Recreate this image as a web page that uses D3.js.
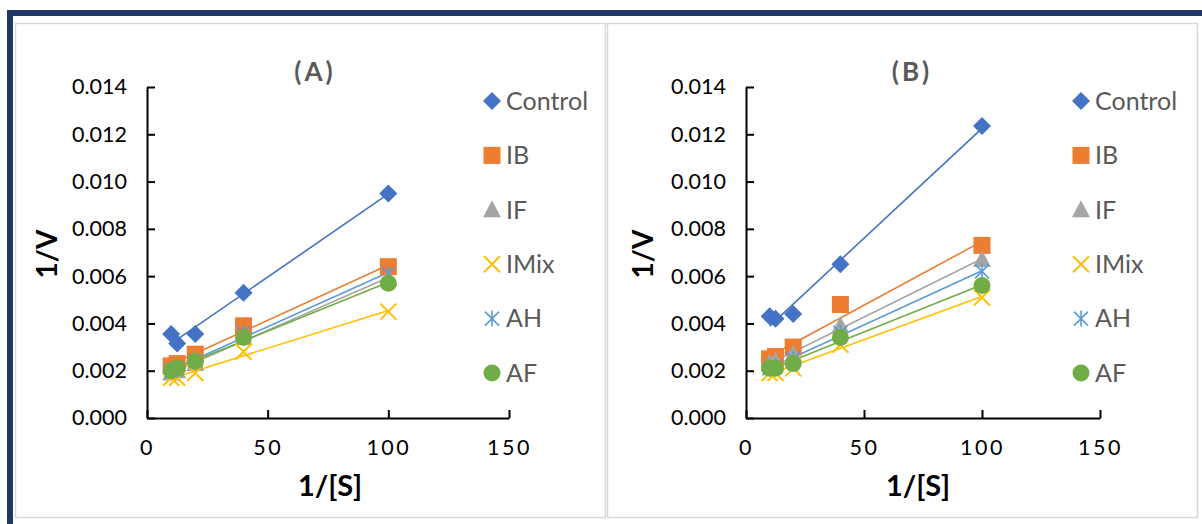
<!DOCTYPE html>
<html><head><meta charset="utf-8">
<script src="https://cdn.jsdelivr.net/npm/d3@7"></script>
<style>body{margin:0;background:#fff}svg{display:block}text{font-family:Lato,"Open Sans",sans-serif}</style>
</head><body><svg id="c" width="1202" height="524"></svg>
<script>
// ---- data ----
const xValues = [10, 12.5, 20, 40, 100];
const seriesNames = ["Control", "IB", "IF", "IMix", "AH", "AF"];
const panelTitles = ["(A)", "(B)"];
const yTickValues = [0, 0.002, 0.004, 0.006, 0.008, 0.010, 0.012, 0.014];
const xTickValues = [0, 50, 100, 150];

const aControl = [0.00355, 0.00315, 0.00355, 0.0053, 0.0095];
const aIB      = [0.0022, 0.0023, 0.0027, 0.0039, 0.0064];
const aIF      = [0.0019, 0.0020, 0.0023, 0.0034, 0.0059];
const aIMix    = [0.0017, 0.0017, 0.0019, 0.0028, 0.0045];
const aAH      = [0.0020, 0.0021, 0.0024, 0.0036, 0.0061];
const aAF      = [0.0020, 0.0021, 0.0024, 0.0034, 0.0057];

const bControl = [0.0043, 0.0042, 0.0044, 0.0065, 0.01235];
const bIB      = [0.0025, 0.0026, 0.0030, 0.0048, 0.0073];
const bIF      = [0.0023, 0.0024, 0.0027, 0.0039, 0.0067];
const bIMix    = [0.0019, 0.0019, 0.0021, 0.0031, 0.0051];
const bAH      = [0.0021, 0.0022, 0.0025, 0.0036, 0.0062];
const bAF      = [0.0021, 0.0021, 0.0023, 0.0034, 0.0056];

// ---- styles ----
const colors = ["#4472C4", "#ED7D31", "#A5A5A5", "#FFC000", "#5B9BD5", "#70AD47"];
const shapes = ["diamond", "square", "triangle", "x", "star", "circle"];

const panels = [
  {title: panelTitles[0], series: [aControl, aIB, aIF, aIMix, aAH, aAF],
   box: [15, 23, 590, 494], x0: 147, x1: 509, legendX: 492, titleX: 315, yTitleX: 47, xTitleX: 330},
  {title: panelTitles[1], series: [bControl, bIB, bIF, bIMix, bAH, bAF],
   box: [607, 23, 590, 494], x0: 746, x1: 1100, legendX: 1081, titleX: 912, yTitleX: 643, xTitleX: 918}
];

const svg = d3.select("#c");
svg.append("rect").attr("width", 1202).attr("height", 524).attr("fill", "#fff");
// navy frame
svg.append("rect").attr("x", 7).attr("y", 10).attr("width", 1195).attr("height", 6).attr("fill", "#1F3864");
svg.append("rect").attr("x", 7).attr("y", 10).attr("width", 6).attr("height", 514).attr("fill", "#1F3864");

function drawMarker(g, shape, color, cx, cy) {
  if (shape === "diamond") {
    const s = 9;
    g.append("path").attr("d", `M${cx},${cy - s}L${cx + s},${cy}L${cx},${cy + s}L${cx - s},${cy}Z`).attr("fill", color);
  } else if (shape === "square") {
    g.append("rect").attr("x", cx - 8.5).attr("y", cy - 8.5).attr("width", 17).attr("height", 17).attr("fill", color);
  } else if (shape === "triangle") {
    g.append("path").attr("d", `M${cx},${cy - 9.5}L${cx + 9},${cy + 7.5}L${cx - 9},${cy + 7.5}Z`).attr("fill", color);
  } else if (shape === "x") {
    const s = 8;
    g.append("path").attr("d", `M${cx - s},${cy - s}L${cx + s},${cy + s}M${cx + s},${cy - s}L${cx - s},${cy + s}`)
      .attr("stroke", color).attr("stroke-width", 2).attr("fill", "none");
  } else if (shape === "star") {
    const s = 7;
    g.append("path").attr("d", `M${cx - s},${cy - s}L${cx + s},${cy + s}M${cx + s},${cy - s}L${cx - s},${cy + s}M${cx},${cy - s - 1}L${cx},${cy + s + 1}`)
      .attr("stroke", color).attr("stroke-width", 1.6).attr("fill", "none");
  } else if (shape === "circle") {
    g.append("circle").attr("cx", cx).attr("cy", cy).attr("r", 8.5).attr("fill", color);
  }
}

function regression(xs, ys) {
  const n = xs.length;
  const mx = d3.mean(xs), my = d3.mean(ys);
  let sxy = 0, sxx = 0;
  for (let i = 0; i < n; i++) { sxy += (xs[i] - mx) * (ys[i] - my); sxx += (xs[i] - mx) ** 2; }
  const m = sxy / sxx;
  return {m, b: my - m * mx};
}

panels.forEach(p => {
  const [bx, by, bw, bh] = p.box;
  svg.append("rect").attr("x", bx + 0.5).attr("y", by + 0.5).attr("width", bw).attr("height", bh)
    .attr("fill", "#fff").attr("stroke", "#D9D9D9").attr("stroke-width", 1.5);

  const x = d3.scaleLinear().domain([0, 150]).range([p.x0, p.x1]);
  const y = d3.scaleLinear().domain([0, 0.014]).range([418, 87]);

  const gy = svg.append("g").attr("transform", `translate(${p.x0},0)`)
    .call(d3.axisLeft(y).tickValues(yTickValues).tickFormat(d3.format(".3f")).tickSizeInner(-8).tickSizeOuter(0).tickPadding(20));
  const gx = svg.append("g").attr("transform", `translate(0,418)`)
    .call(d3.axisBottom(x).tickValues(xTickValues).tickFormat(d3.format("d")).tickSizeInner(-8).tickSizeOuter(0).tickPadding(22));
  [gy, gx].forEach(g => {
    g.select(".domain").attr("stroke", "#000").attr("stroke-width", 2);
    g.selectAll(".tick line").attr("stroke", "#000").attr("stroke-width", 2);
    g.selectAll(".tick text").attr("fill", "#000").attr("font-size", 21.5).attr("font-family", "Lato");
  });
  gx.selectAll(".tick text").attr("letter-spacing", 2.5);

  // trendlines
  p.series.forEach((ys, i) => {
    const r = regression(xValues, ys);
    const xa = d3.min(xValues), xb = d3.max(xValues);
    svg.append("line").attr("x1", x(xa)).attr("y1", y(r.m * xa + r.b))
      .attr("x2", x(xb)).attr("y2", y(r.m * xb + r.b))
      .attr("stroke", colors[i]).attr("stroke-width", 1.6);
  });
  // markers
  p.series.forEach((ys, i) => {
    const g = svg.append("g");
    ys.forEach((v, j) => drawMarker(g, shapes[i], colors[i], x(xValues[j]), y(v)));
  });

  // legend
  seriesNames.forEach((name, i) => {
    const ly = 101 + i * 54.4;
    drawMarker(svg.append("g"), shapes[i], colors[i], p.legendX, ly);
    svg.append("text").attr("x", p.legendX + 14).attr("y", ly).attr("dy", "0.35em")
      .attr("font-size", 25).attr("fill", "#595959").text(name);
  });

  // titles
  svg.append("text").attr("x", p.titleX).attr("y", 72).attr("dy", "0.35em").attr("text-anchor", "middle")
    .attr("font-size", 26).attr("font-weight", "bold").attr("fill", "#595959").attr("letter-spacing", 3).text(p.title);
  svg.append("text").attr("transform", `translate(${p.yTitleX},254) rotate(-90)`).attr("dy", "0.35em")
    .attr("text-anchor", "middle").attr("font-size", 28).attr("font-weight", "bold").attr("fill", "#000").text("1/V");
  svg.append("text").attr("x", p.xTitleX).attr("y", 486).attr("dy", "0.35em").attr("text-anchor", "middle")
    .attr("font-size", 29).attr("font-weight", "bold").attr("fill", "#000").text("1/[S]");
});
</script></body></html>
